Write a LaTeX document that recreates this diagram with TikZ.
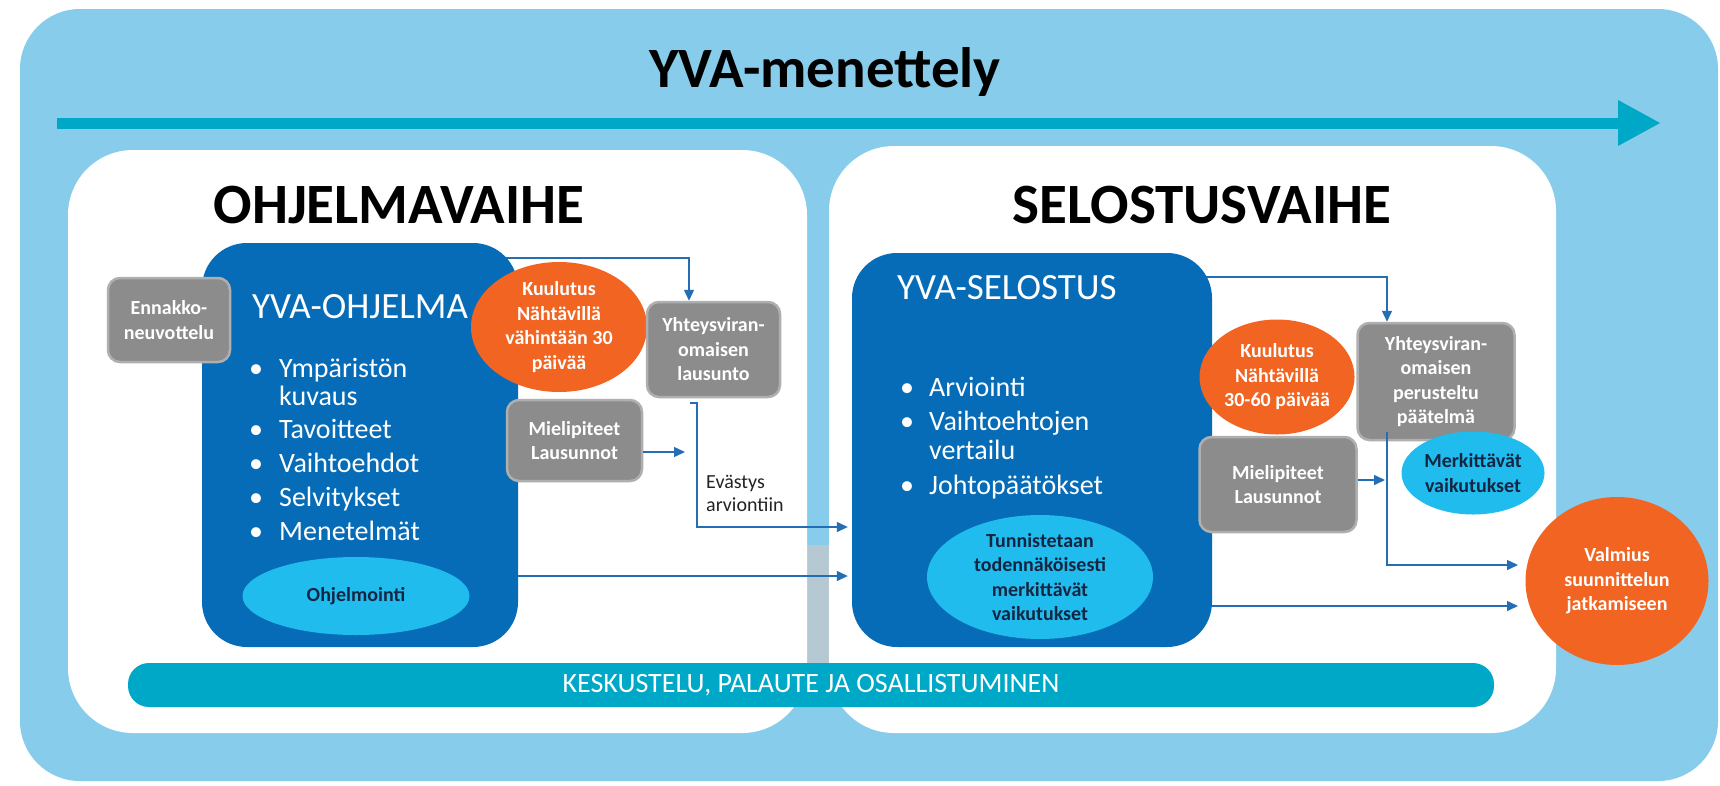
\documentclass[tikz,border=0pt]{standalone}
\usepackage{fontspec}
\setmainfont{Carlito}
\usetikzlibrary{arrows.meta,shapes.geometric}
\definecolor{bgblue}{RGB}{135,204,235}
\definecolor{yvateal}{RGB}{0,168,200}
\definecolor{dblue}{RGB}{6,108,184}
\definecolor{boxgray}{RGB}{140,140,140}
\definecolor{boxgrayb}{RGB}{175,175,175}
\definecolor{orng}{RGB}{241,100,34}
\definecolor{cyanell}{RGB}{32,188,238}
\definecolor{navytxt}{RGB}{20,38,66}
\definecolor{connblue}{RGB}{35,110,180}
\definecolor{stripgray}{RGB}{182,200,210}
\definecolor{darktxt}{RGB}{35,35,35}
\pgfdeclarelayer{bg}
\pgfdeclarelayer{mid}
\pgfsetlayers{bg,mid,main}
\tikzset{
  darkbox/.style={rectangle, rounded corners=45pt, fill=dblue, inner sep=0pt},
  graybox/.style={rectangle, rounded corners=12pt, fill=boxgray, draw=boxgrayb, line width=2.5pt,
     text=white, font=\bfseries\fontsize{20}{24.5}\selectfont, align=center, inner sep=0pt},
  orangeell/.style={ellipse, fill=orng, text=white, font=\bfseries\fontsize{20}{24.5}\selectfont, align=center, inner sep=0pt},
  cyanellipse/.style={ellipse, fill=cyanell, text=navytxt, font=\bfseries\fontsize{20}{24.5}\selectfont, align=center, inner sep=0pt},
  bigtitle/.style={font=\bfseries\fontsize{57}{60}\selectfont, text=black, inner sep=0pt},
  header/.style={anchor=base west, text=white, font=\fontsize{37}{40}\selectfont, inner sep=0pt},
  bullet/.style={anchor=base west, text=white, font=\fontsize{28}{32}\selectfont, inner sep=0pt},
  conn/.style={draw=connblue, line width=1.4pt, -{Triangle[length=11pt,width=10pt]}},
  lbl/.style={anchor=north west, text=darktxt, font=\fontsize{20}{23}\selectfont, align=left, inner sep=0pt},
  barnode/.style={rectangle, rounded corners=21pt, fill=yvateal, text=white, font=\fontsize{28}{30}\selectfont, inner sep=0pt}
}
\begin{document}
\begin{tikzpicture}[x=1pt,y=-1pt]
\useasboundingbox (0,0) rectangle (1720,785);
\begin{pgfonlayer}{bg}
  \fill[white] (0,0) rectangle (1720,785);
  \fill[bgblue, rounded corners=60pt] (20,9) rectangle (1718,781);
  \fill[stripgray] (800,545) rectangle (834,666);
  \fill[white, rounded corners=65pt] (68,150) rectangle (807,733);
  \fill[white, rounded corners=65pt] (829,146) rectangle (1556,733);
\end{pgfonlayer}

% main arrow
\coordinate (arrS) at (57,123);
\coordinate (arrE) at (1622,123);
\draw[yvateal, line width=11pt] (arrS) -- (arrE);
\fill[yvateal] (1618,100) -- (1660,123) -- (1618,146) -- cycle;

\node[bigtitle] (title) at (825,72) {YVA-menettely};
\node[bigtitle] (ohjv) at (399,205) {OHJELMAVAIHE};
\node[bigtitle] (selv) at (1202,205) {SELOSTUSVAIHE};

% left phase
\node[darkbox, minimum width=316pt, minimum height=404pt] (yvao) at (360,445) {};
\node[graybox, minimum width=122pt, minimum height=84pt] (enn) at (169,320) {Ennakko-\\neuvottelu};
\node[header] (h1) at (252,318) {YVA-OHJELMA};
\node[bullet] (lb1) at (249,377) {•};
\node[bullet] (lt1) at (279,377) {Ympäristön};
\node[bullet] (lt1b) at (279,405) {kuvaus};
\node[bullet] (lb2) at (249,438) {•};
\node[bullet] (lt2) at (279,438) {Tavoitteet};
\node[bullet] (lb3) at (249,472) {•};
\node[bullet] (lt3) at (279,472) {Vaihtoehdot};
\node[bullet] (lb4) at (249,506) {•};
\node[bullet] (lt4) at (279,506) {Selvitykset};
\node[bullet] (lb5) at (249,540) {•};
\node[bullet] (lt5) at (279,540) {Menetelmät};
\node[cyanellipse, minimum width=227pt, minimum height=78pt] (ohj) at (356,596) {Ohjelmointi};
\node[orangeell, minimum width=176pt, minimum height=130pt] (kuu1) at (559,327) {Kuulutus\\Nähtävillä\\vähintään 30\\päivää};
\node[graybox, minimum width=133pt, minimum height=95pt] (yht1) at (713.5,349.5) {Yhteysviran-\\omaisen\\lausunto};
\node[graybox, minimum width=135pt, minimum height=81pt] (mie1) at (574.5,440.5) {Mielipiteet\\Lausunnot};
\node[lbl] (eva) at (706,475) {Evästys\\arviontiin};

% right phase
\node[darkbox, minimum width=360pt, minimum height=394pt] (yvas) at (1032,450) {};
\node[header] (h2) at (897,299) {YVA-SELOSTUS};
\node[bullet] (rb1) at (900,396) {•};
\node[bullet] (rt1) at (929,396) {Arviointi};
\node[bullet] (rb2) at (900,430) {•};
\node[bullet] (rt2) at (929,430) {Vaihtoehtojen};
\node[bullet] (rt2b) at (929,459) {vertailu};
\node[bullet] (rb3) at (900,494) {•};
\node[bullet] (rt3) at (929,494) {Johtopäätökset};
\node[cyanellipse, minimum width=226pt, minimum height=113pt] (tun) at (1040,577) {Tunnistetaan\\todennäköisesti\\merkittävät\\vaikutukset};
\node[orangeell, minimum width=155pt, minimum height=115pt] (kuu2) at (1277,377) {Kuulutus\\Nähtävillä\\30-60 päivää};
\node[graybox, minimum width=157pt, minimum height=117pt] (yht2) at (1436,381.5) {Yhteysviran-\\omaisen\\perusteltu\\päätelmä};
\node[cyanellipse, minimum width=143pt, minimum height=83pt] (mer) at (1473,473) {Merkittävät\\vaikutukset};
\node[graybox, minimum width=157pt, minimum height=95pt] (mie2) at (1278,484.5) {Mielipiteet\\Lausunnot};
\node[orangeell, minimum width=183pt, minimum height=168pt] (val) at (1617,581) {Valmius\\suunnittelun\\jatkamiseen};

\node[barnode, minimum width=1366pt, minimum height=44pt] (bar) at (811,685) {KESKUSTELU, PALAUTE JA OSALLISTUMINEN};

% connector helper coordinates
\coordinate (c258) at (689,258);
\coordinate (m1end) at (685,452);
\coordinate (e1) at (690,403);
\coordinate (e2) at (697,403);
\coordinate (c527) at (0,527);
\coordinate (c577) at (0,576);
\coordinate (c277) at (1387,277);
\coordinate (m2end) at (1385,480);
\coordinate (v1) at (1387,432);
\coordinate (t1) at (1518,565);
\coordinate (t2) at (1518,606);

\begin{pgfonlayer}{mid}
  \draw[conn] (yvao.center |- c258) -- (c258) -- (c258 |- yht1.north);
  \draw[conn] (yvas.center |- c277) -- (c277) -- (c277 |- yht2.north);
\end{pgfonlayer}
\draw[conn] (mie1.east |- m1end) -- (m1end);
\draw[conn, shorten >=4pt] (e1) -- (e2) -- (e2 |- c527) -- (yvas.west |- c527);
\draw[conn, shorten >=4pt] (yvao.east |- c577) -- (yvas.west |- c577);
\draw[conn] (mie2.east |- m2end) -- (m2end);
\draw[conn] (v1) -- (v1 |- t1) -- (t1);
\draw[conn] (yvas.east |- t2) -- (t2);
\end{tikzpicture}
\end{document}
